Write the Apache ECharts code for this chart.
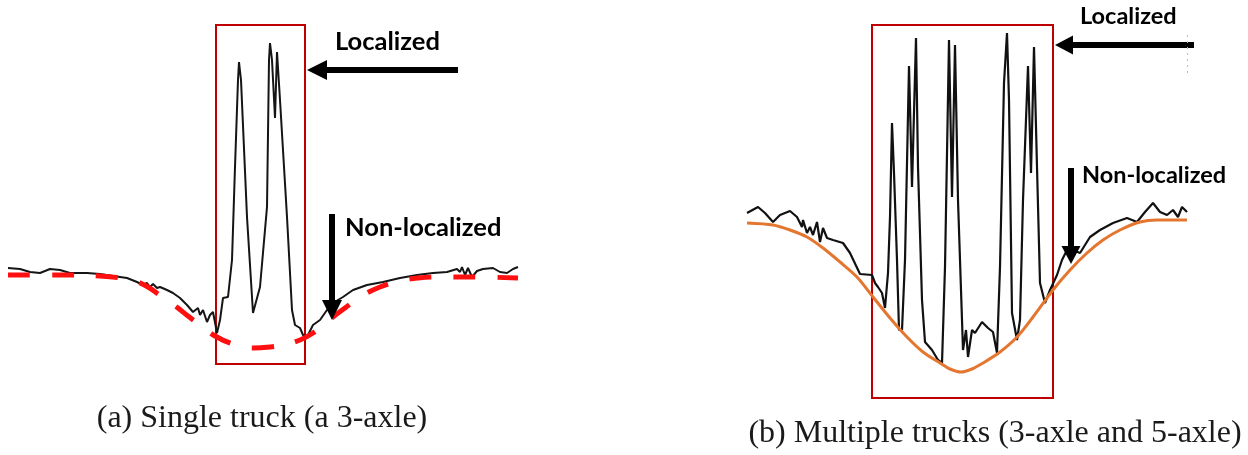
<!DOCTYPE html>
<html>
<head>
<meta charset="utf-8">
<script src="https://cdn.jsdelivr.net/npm/echarts@6/dist/echarts.min.js"></script>
<style>
  html, body { margin: 0; padding: 0; background: #ffffff; }
  #chart { width: 1248px; height: 455px; }
</style>
</head>
<body>
<div id="chart"></div>
<script>
// (a) single 3-axle truck: measured response [sample, amplitude]
const singleTruckResponse = [
  [0,112],[12,111],[22,108],[32,107],[42,111],[52,110],[62,107],[79,107],[92,106],
  [105,104],[119,102],[129,98],[135,95],[139,97],[142,93],[145,96],[149,92],[152,93],
  [159,90],[165,87],[172,82],[179,75],[185,68],[190,72],[192,65],[195,70],[199,58],
  [202,65],[205,68],[209,47],[212,60],[215,82],[220,83],[224,120],[227,213],[230,300],
  [231,318],[233,300],[239,163],[245,67],[252,93],[259,173],[261,320],[262,337],[264,320],
  [267,262],[269,328],[272,280],[279,163],[284,70],[287,55],[292,52],[295,45],[299,43],
  [305,55],[312,60],[319,70],[325,77],[335,83],[345,90],[359,95],[375,98],[392,102],
  [409,105],[425,107],[439,108],[449,111],[452,108],[454,113],[457,105],[460,112],
  [464,103],[469,109],[475,111],[485,112],[492,108],[499,107],[505,111],[510,113]
];
// (a) non-localized (global) trend
const singleTruckTrend = [
  [0,105],[52,105],[92,104],[119,101],[130,98],[140,93],[150,86],[160,79],[170,72],
  [180,64],[192,55],[207,44],[225,36],[245,32],[262,33],[275,35],[292,40],[305,47],
  [315,55],[325,63],[337,72],[352,83],[372,93],[392,99],[410,102],[435,103],[465,103],
  [510,102]
];

// (b) 3-axle + 5-axle trucks: measured response
const multiTruckResponse = [
  [0,167],[11,173],[18,167],[26,158],[33,165],[43,169],[50,163],[55,153],[56,160],
  [60,147],[63,153],[66,145],[70,158],[73,138],[76,152],[80,142],[86,140],[96,137],
  [103,127],[113,106],[125,105],[128,97],[131,93],[135,87],[138,72],[141,107],[143,163],
  [145,257],[147,207],[150,120],[152,50],[155,50],[158,120],[162,314],[165,193],[169,342],
  [171,213],[175,80],[178,38],[185,30],[191,20],[195,17],[198,113],[202,340],[205,183],
  [208,335],[211,180],[216,30],[219,50],[221,23],[225,50],[228,47],[235,58],[241,52],
  [246,48],[250,27],[253,113],[257,297],[260,347],[262,280],[265,67],[270,40],[273,60],
  [276,180],[281,314],[284,207],[287,333],[290,213],[293,97],[298,77],[303,90],[310,105],
  [315,120],[321,132],[333,127],[343,143],[353,150],[366,157],[380,162],[390,158],
  [398,168],[406,177],[413,168],[420,165],[426,170],[431,163],[435,173],[440,168]
];
// (b) non-localized (global) trend
const multiTruckTrend = [
  [0,157],[26,155],[43,150],[60,143],[76,132],[93,118],[110,103],[126,83],[143,62],
  [160,43],[176,28],[193,17],[203,11],[214,8],[225,11],[236,17],[253,28],[270,43],
  [286,63],[306,90],[323,110],[340,127],[356,140],[373,150],[393,158],[410,160],[440,160]
];

// highlighted localized zones [[x0, y0], [x1, y1]]
const zoneA = [[208,16],[297,355]];
const zoneB = [[125,-18],[306,355]];

// annotation arrows [[from], [to]]
const arrowsA = [ [[450,310],[309,310]], [[324,166],[324,70]] ];
const arrowsB = [ [[447,335],[317,335]], [[324,212],[324,125]] ];

const labelLocalized = 'Localized';
const labelNonLocalized = 'Non-localized';
const captionA = '(a) Single truck (a 3-axle)';
const captionB = '(b) Multiple trucks (3-axle and 5-axle)';

const BOX_RED = '#c00000';

function zoneArea(z) {
  return {
    silent: true,
    itemStyle: { color: 'rgba(0,0,0,0)', borderColor: BOX_RED, borderWidth: 2 },
    label: { show: false },
    data: [[{ coord: z[0] }, { coord: z[1] }]]
  };
}

function arrowLines(list, head) {
  return {
    silent: true,
    symbol: ['none', 'triangle'],
    symbolSize: head,
    label: { show: false },
    lineStyle: { color: '#000', width: 6, type: 'solid' },
    data: list.map(a => [{ coord: a[0] }, { coord: a[1] }])
  };
}

const chart = echarts.init(document.getElementById('chart'), null, { renderer: 'canvas' });

const boldLabel = (size) => '700 ' + size + 'px Lato';
const captionFont = '400 32px "Liberation Serif"';

chart.setOption({
  animation: false,
  backgroundColor: '#ffffff',
  grid: [
    { left: 8, top: 0, width: 510, height: 400 },
    { left: 747, top: 0, width: 480, height: 400 }
  ],
  xAxis: [
    { type: 'value', gridIndex: 0, min: 0, max: 510, show: false },
    { type: 'value', gridIndex: 1, min: 0, max: 480, show: false }
  ],
  yAxis: [
    { type: 'value', gridIndex: 0, min: -20, max: 380, show: false },
    { type: 'value', gridIndex: 1, min: -20, max: 380, show: false }
  ],
  series: [
    {
      name: 'response-a', type: 'line', xAxisIndex: 0, yAxisIndex: 0,
      data: singleTruckResponse, showSymbol: false, symbol: 'none', clip: false,
      lineStyle: { color: '#151515', width: 2 }, z: 2,
      markArea: zoneArea(zoneA),
      markLine: arrowLines(arrowsA, [20, 20])
    },
    {
      name: 'trend-a', type: 'line', xAxisIndex: 0, yAxisIndex: 0,
      data: singleTruckTrend, showSymbol: false, symbol: 'none', smooth: 0.4,
      lineStyle: { color: '#ff1010', width: 5, type: [22, 22] }, z: 3
    },
    {
      name: 'response-b', type: 'line', xAxisIndex: 1, yAxisIndex: 1,
      data: multiTruckResponse, showSymbol: false, symbol: 'none', clip: false,
      lineStyle: { color: '#111', width: 2.2 }, z: 2,
      markArea: zoneArea(zoneB),
      markLine: arrowLines(arrowsB, [19, 18])
    },
    {
      name: 'trend-b', type: 'line', xAxisIndex: 1, yAxisIndex: 1,
      data: multiTruckTrend, showSymbol: false, symbol: 'none', smooth: 0.3,
      lineStyle: { color: '#e4762f', width: 3 }, z: 3,
      markLine: {
        silent: true, symbol: ['none', 'none'], label: { show: false },
        lineStyle: { color: '#bbbbbb', width: 1, type: [2, 4] },
        data: [[{ coord: [440, 345] }, { coord: [440, 305] }]]
      }
    }
  ],
  graphic: [
    { type: 'text', style: { text: labelLocalized, x: 335, y: 42, font: boldLabel(25.5), fill: '#000', textAlign: 'left', textVerticalAlign: 'middle' } },
    { type: 'text', style: { text: labelNonLocalized, x: 345, y: 228, font: boldLabel(25.5), fill: '#000', textAlign: 'left', textVerticalAlign: 'middle' } },
    { type: 'text', style: { text: labelLocalized, x: 1080, y: 16, font: boldLabel(23.5), fill: '#000', textAlign: 'left', textVerticalAlign: 'middle' } },
    { type: 'text', style: { text: labelNonLocalized, x: 1082, y: 175, font: boldLabel(23.5), fill: '#000', textAlign: 'left', textVerticalAlign: 'middle' } },
    { type: 'text', style: { text: captionA, x: 262, y: 419, font: captionFont, fill: '#1a1a1a', textAlign: 'center', textVerticalAlign: 'middle' } },
    { type: 'text', style: { text: captionB, x: 995, y: 434, font: captionFont, fill: '#1a1a1a', textAlign: 'center', textVerticalAlign: 'middle' } }
  ]
});
</script>
</body>
</html>
